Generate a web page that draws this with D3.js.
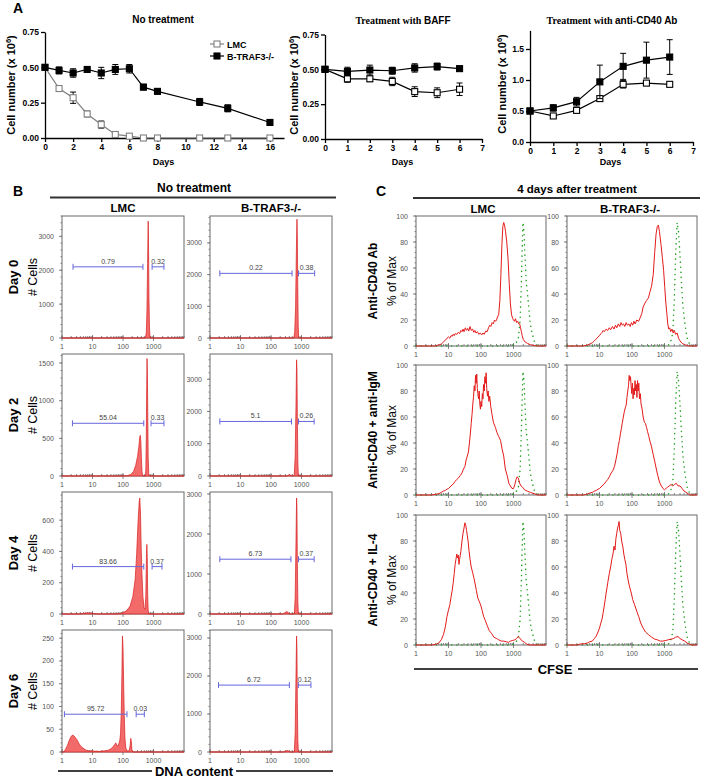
<!DOCTYPE html>
<html>
<head>
<meta charset="utf-8">
<script src="https://cdn.jsdelivr.net/npm/d3@7"></script>
<style>
body { margin: 0; background: #fff; }
svg text { font-family: Arial, "Liberation Sans", sans-serif; }
</style>
</head>
<body>
<div id="chart"></div>
<script>
// ---------- Panel A : cell numbers ----------
var noTxDays = [0, 1, 2, 3, 4, 5, 6, 7, 8, 11, 13, 16];
var noTxLmc = [0.50, 0.35, 0.285, 0.17, 0.095, 0.025, 0.013, 0, 0, 0, 0, 0];
var noTxLmcErr = [0.01, 0.02, 0.04, 0.02, 0.025, 0.01, 0.005, 0.003, 0.003, 0.003, 0.003, 0.003];
var noTxTraf = [0.50, 0.478, 0.46, 0.485, 0.46, 0.485, 0.49, 0.36, 0.33, 0.255, 0.21, 0.11];
var noTxTrafErr = [0.01, 0.025, 0.03, 0.01, 0.04, 0.035, 0.03, 0.02, 0.015, 0.025, 0.025, 0.01];

var baffDays = [0, 1, 2, 3, 4, 5, 6];
var baffLmc = [0.50, 0.432, 0.432, 0.413, 0.34, 0.332, 0.357];
var baffLmcErr = [0.01, 0.025, 0.02, 0.03, 0.035, 0.035, 0.045];
var baffTraf = [0.50, 0.485, 0.495, 0.49, 0.51, 0.52, 0.505];
var baffTrafErr = [0.01, 0.03, 0.035, 0.025, 0.03, 0.025, 0.015];

var cd40Days = [0, 1, 2, 3, 4, 5, 6];
var cd40Lmc = [0.50, 0.42, 0.51, 0.70, 0.93, 0.95, 0.93];
var cd40LmcErr = [0.02, 0.02, 0.02, 0.04, 0.06, 0.03, 0.02];
var cd40Traf = [0.50, 0.55, 0.65, 0.97, 1.22, 1.32, 1.37];
var cd40TrafErr = [0.01, 0.05, 0.07, 0.27, 0.21, 0.29, 0.28];

// ---------- Panel B : DNA content histograms [DNA, # cells] ----------
var bLmcD0 = [[1,0],[540,0],[580,150],[610,800],[640,2200],[670,3450],[690,2600],[710,1200],[740,300],[770,0],[10000,0]];
var bLmcD2 = [[1,0],[100,0],[140,5],[180,20],[220,60],[260,140],[300,260],[330,390],[355,520],[370,540],[385,460],[400,250],[420,60],[440,5],[470,0],[540,0],[560,80],[580,500],[600,1200],[615,1560],[630,1350],[650,800],[670,250],[700,30],[730,0],[10000,0]];
var bLmcD4 = [[1,0],[4,0],[5,4],[7,7],[9,5],[12,2],[16,0],[60,0],[90,5],[130,20],[170,50],[210,110],[250,220],[280,380],[310,580],[340,720],[355,742],[375,640],[395,420],[420,250],[450,110],[490,40],[530,30],[560,120],[585,360],[605,445],[625,360],[645,120],[670,20],[700,0],[10000,0]];
var bLmcD6 = [[1,0],[1.15,0],[1.3,6],[1.5,14],[1.7,24],[1.9,32],[2.1,36],[2.3,37],[2.5,35],[2.8,31],[3.1,27],[3.5,20],[4,14],[4.6,10],[5.3,7],[6.2,4],[7.2,3],[8.5,2],[10,2.5],[12,1.5],[14,2],[17,1],[20,2],[24,2.5],[28,3],[33,4],[38,6],[43,9],[48,12],[53,16],[58,20],[63,15],[68,13],[73,18],[78,24],[83,40],[88,90],[92,170],[96,255],[100,230],[105,150],[110,80],[116,30],[124,8],[140,2],[160,3],[172,15],[180,30],[188,22],[196,5],[210,0],[10000,0]];
var bTrafD0 = [[1,0],[560,0],[600,200],[640,1000],[680,2800],[710,3750],[730,3200],[755,1600],[780,400],[810,0],[10000,0]];
var bTrafD2 = [[1,0],[330,0],[380,30],[420,40],[460,10],[520,0],[580,50],[620,600],[660,2200],[690,3600],[710,3300],[730,1800],[760,400],[790,0],[10000,0]];
var bTrafD4 = [[1,0],[250,0],[290,40],[330,60],[370,30],[420,0],[580,0],[620,400],[660,1800],[690,2900],[710,2600],[730,1300],[760,300],[790,0],[10000,0]];
var bTrafD6 = [[1,0],[250,0],[300,20],[340,40],[380,25],[420,0],[580,0],[620,500],[660,2000],[690,3050],[710,2700],[730,1300],[760,300],[790,0],[10000,0]];

var bDays = ['Day 0', 'Day 2', 'Day 4', 'Day 6'];
var bYMaxLmc = [3600, 1620, 780, 268];
var bYMaxTraf = [3850, 3780, 3050, 3210];
var bYStepLmc = [1000, 500, 200, 50];
var bYStepTraf = [1000, 1000, 1000, 1000];
var bGateYLmc = [2100, 700, 303, 83];
var bGateYTraf = [2040, 1690, 1370, 1760];
var bGateLmc = [[[2.3,450],[900,2200]], [[2.2,480],[830,2200]], [[2.2,480],[900,1900]], [[1.2,135],[270,500]]];
var bGateTraf = [[[2.1,490],[800,2700]], [[2.1,470],[800,2600]], [[2.1,450],[800,2600]], [[1.9,400],[790,2040]]];
var bPctLmc = [['0.79','0.32'], ['55.04','0.33'], ['83.66','0.37'], ['95.72','0.03']];
var bPctTraf = [['0.22','0.38'], ['5.1','0.26'], ['6.73','0.37'], ['6.72','0.12']];

// ---------- Panel C : CFSE dilution [CFSE, % of max] ----------
var cLmcCd40 = [[1,0],[4,0],[5,0.8],[6,1.5],[7,3],[8,4.5],[9,6],[10,7],[11,6],[12,8],[13,7.5],[14,9],[15,8],[16,9.5],[18,9],[20,10.5],[22,9.5],[24,12],[26,11],[28,13],[30,11],[33,14],[36,12],[39,13.5],[42,11.5],[46,15],[50,12],[55,13],[60,10.5],[65,12],[70,10],[78,11],[86,9],[95,10],[105,8.5],[115,10],[125,9],[140,11.5],[155,11],[170,14],[185,16],[200,15],[220,18],[240,17],[260,20],[280,19],[300,20],[330,23],[350,24],[380,35],[410,55],[440,78],[470,92],[500,95],[530,93],[570,88],[620,80],[680,67],[740,48],[800,33],[870,24],[950,21],[1000,20],[1080,19],[1150,21],[1250,18],[1350,19],[1450,17],[1550,17],[1650,14],[1750,11],[1850,8],[2000,5],[2300,3],[2700,2],[3300,1],[4500,0.3],[5500,0],[10000,0]];
var cTrafCd40 = [[1,0],[3,0],[4,0.5],[5,1.5],[6,2.5],[7,4],[8,5.5],[9,7],[10,8],[11,9.5],[12,10.5],[13,12],[14,11],[16,13],[18,12],[20,14],[22,12.5],[25,15],[28,13],[31,16],[34,14],[38,17],[42,15],[46,18],[50,16],[55,17],[60,15],[66,18],[72,16],[80,17],[88,15],[96,18],[105,16],[115,19],[125,17],[140,20],[160,19],[180,22],[200,25],[220,30],[250,33],[280,35],[320,37],[360,42],[400,46],[450,55],[500,72],[550,86],[600,92],[650,93],[700,88],[780,78],[860,68],[940,58],[1020,45],[1100,33],[1180,25],[1260,17],[1350,13],[1450,14],[1550,11],[1700,13],[1850,10],[2000,12],[2200,9],[2450,10],[2700,6],[3000,4],[3500,2],[4200,1],[5000,0.3],[6000,0],[10000,0]];
var cLmcIgm = [[1,0],[3,0],[4,0.5],[5,1],[6,2],[7,3],[8,3.5],[9,4.5],[10,5],[12,7],[14,8.5],[16,10.5],[18,12],[20,13],[23,15],[26,17],[29,20],[32,22],[35,27],[38,30],[41,33],[44,40],[47,47],[50,55],[53,62],[56,70],[59,76],[62,84],[65,80],[68,92],[71,86],[74,93],[77,82],[80,78],[84,74],[88,80],[92,70],[96,66],[100,72],[105,68],[110,78],[115,74],[120,85],[126,80],[132,91],[138,86],[144,94],[150,82],[158,76],[166,80],[175,72],[185,76],[200,68],[218,62],[240,56],[277,52],[310,48],[350,45],[400,42],[440,36],[500,30],[560,20],[640,15],[720,9],[800,7],[900,5],[1000,5],[1100,8],[1200,12],[1300,14],[1400,13],[1550,9],[1700,7],[1900,6],[2200,4],[2650,3],[3300,2],[4300,1],[5500,0],[10000,0]];
var cTrafIgm = [[1,0],[3,0],[4,0.5],[5,1.5],[6,2],[7,3],[8,3.5],[9,4.5],[10,5],[12,7],[14,8.5],[16,10.5],[18,12],[20,14],[23,17],[26,19],[29,22],[32,27],[35,32],[38,38],[41,42],[44,47],[47,51],[50,55],[54,60],[58,64],[62,67],[66,69],[70,75],[74,80],[78,84],[82,92],[86,88],[90,91],[94,84],[98,78],[103,86],[108,74],[113,82],[118,77],[124,88],[130,80],[136,85],[142,75],[148,88],[155,80],[162,86],[170,74],[180,78],[190,70],[205,66],[220,60],[240,56],[260,55],[280,52],[300,49],[330,45],[360,41],[400,37],[450,31],[500,26],[560,20],[620,15],[700,10],[800,7],[900,5],[1000,4],[1100,5],[1250,6],[1400,7],[1600,8],[1800,7],[2000,8],[2300,9],[2600,7],[3000,7],[3500,5],[4000,3],[5000,1.5],[6000,0],[10000,0]];
var cLmcIl4 = [[1,0],[3,0],[4,0.5],[5,1.5],[6,4],[7,8],[8,14],[9,22],[10,27],[11,31],[12,37],[13,42],[14,48],[15,55],[16,62],[17,66],[18,70],[19,67],[20,69],[21,62],[22,66],[24,72],[26,80],[28,86],[30,90],[32,94],[34,92],[36,88],[38,84],[40,80],[43,72],[46,66],[50,60],[55,56],[60,52],[66,47],[72,42],[80,36],[90,33],[100,30],[110,26],[120,22],[135,19],[155,15],[180,11],[210,9],[250,6],[300,5],[350,4],[420,3],[500,3],[600,2.5],[700,2],[800,3],[950,3.5],[1100,4],[1250,5],[1400,6.5],[1550,5.5],[1700,4],[1900,3],[2200,2],[2600,0.5],[3200,0],[10000,0]];
var cTrafIl4 = [[1,0],[2,0],[2.6,0.8],[3.5,1],[4.2,1.5],[5,2.5],[6,3],[7,5],[8,7],[9,10],[10,13],[11,17],[12,20],[13,25],[14,30],[15,35],[16,40],[17,44],[18,48],[20,55],[22,60],[24,66],[26,70],[28,76],[30,73],[32,82],[34,86],[36,90],[38,92],[40,95],[42,88],[45,86],[48,80],[52,76],[56,70],[60,66],[65,62],[70,55],[76,50],[82,46],[88,43],[95,40],[105,35],[120,31],[140,26],[160,22],[185,17],[220,13],[260,10],[320,8],[400,6],[500,4.5],[600,4],[750,3],[900,3],[1100,3.5],[1300,4],[1600,4.5],[1900,5],[2200,6],[2600,6.5],[3000,5],[3500,4],[4200,3],[5000,1.5],[6000,0.5],[7000,0],[10000,0]];
var cGreenLmc = [[1,0],[800,0],[1100,1],[1400,5],[1600,20],[1750,50],[1850,75],[1950,95],[2100,88],[2250,70],[2450,50],[2700,40],[3000,28],[3250,18],[3600,12],[4300,4],[5000,1],[6000,0],[10000,0]];
var cGreenTraf = [[1,0],[1200,0],[1500,2],[1800,10],[2000,35],[2200,70],[2450,95],[2700,88],[3000,70],[3300,50],[3700,30],[4300,16],[5000,6],[6000,1],[7000,0],[10000,0]];
var cRows = ['Anti-CD40 Ab', 'Anti-CD40 + anti-IgM', 'Anti-CD40 + IL-4'];

// SVG Element
var svg = d3.select('#chart')
    .append('svg')
    .attr('width', 704)
    .attr('height', 778);

function boldText(x, y, txt, size, anchor) {
    return svg.append('text')
        .attr('x', x).attr('y', y)
        .attr('font-size', size)
        .attr('font-weight', 'bold')
        .attr('text-anchor', anchor || 'middle')
        .text(txt);
}

// ---------- Panel A ----------
function growthChart(o) {
    var x = d3.scaleLinear().domain([0, o.xMax]).range([o.left, o.right]);
    var y = d3.scaleLinear().domain([0, o.yMax]).range([o.bottom, o.top]);
    var g = svg.append('g');

    var xa = g.append('g')
        .attr('transform', 'translate(0,' + o.bottom + ')')
        .call(d3.axisBottom(x).tickValues(o.xTicks).tickSize(4).tickPadding(2).tickSizeOuter(0).tickFormat(d3.format('d')));
    var ya = g.append('g')
        .attr('transform', 'translate(' + o.left + ',0)')
        .call(d3.axisLeft(y).tickValues(o.yTicks).tickSize(4).tickPadding(2).tickSizeOuter(0).tickFormat(d3.format(o.yFmt)));
    [xa, ya].forEach(function (a) {
        a.selectAll('path, line').attr('stroke', '#000').attr('stroke-width', 1.3);
        a.selectAll('text').attr('font-size', 8.5).attr('font-weight', 'bold').attr('fill', '#000');
    });

    o.series.forEach(function (s) {
        var line = d3.line()
            .x(function (d, i) { return x(s.days[i]); })
            .y(function (d) { return y(d); });
        g.append('path').datum(s.vals)
            .attr('d', line)
            .attr('fill', 'none')
            .attr('stroke', s.color)
            .attr('stroke-width', 1.2);
        var eb = g.selectAll(null).data(s.vals).enter().append('g');
        eb.append('line')
            .attr('x1', function (d, i) { return x(s.days[i]); })
            .attr('x2', function (d, i) { return x(s.days[i]); })
            .attr('y1', function (d, i) { return y(d - s.errs[i]); })
            .attr('y2', function (d, i) { return y(d + s.errs[i]); })
            .attr('stroke', '#000').attr('stroke-width', 1);
        [-1, 1].forEach(function (sg) {
            eb.append('line')
                .attr('x1', function (d, i) { return x(s.days[i]) - 3; })
                .attr('x2', function (d, i) { return x(s.days[i]) + 3; })
                .attr('y1', function (d, i) { return y(d + sg * s.errs[i]); })
                .attr('y2', function (d, i) { return y(d + sg * s.errs[i]); })
                .attr('stroke', '#000').attr('stroke-width', 1);
        });
        g.selectAll(null).data(s.vals).enter().append('rect')
            .attr('x', function (d, i) { return x(s.days[i]) - 3; })
            .attr('y', function (d) { return y(d) - 3; })
            .attr('width', 6).attr('height', 6)
            .attr('fill', s.filled ? '#000' : '#fff')
            .attr('stroke', s.filled ? '#000' : s.color)
            .attr('stroke-width', 1.1);
    });

    boldText((o.left + o.right) / 2 - 1, 165, 'Days', 9);
    var t = svg.append('text')
        .attr('transform', 'translate(' + o.yLabelX + ',' + o.yLabelY + ') rotate(-90)')
        .attr('text-anchor', 'middle')
        .attr('font-size', 11).attr('font-weight', 'bold');
    t.append('tspan').text('Cell number (x 10');
    t.append('tspan').attr('dy', -4).attr('font-size', 7.5).text('6');
    t.append('tspan').attr('dy', 4).text(')');
    return { x: x, y: y };
}

growthChart({
    left: 45, right: 284, top: 32, bottom: 138, xMax: 17, yMax: 0.75,
    xTicks: d3.range(0, 17, 2), yTicks: [0, 0.25, 0.5, 0.75], yFmt: '.2f',
    yLabelX: 15, yLabelY: 85,
    series: [
        { days: noTxDays, vals: noTxLmc, errs: noTxLmcErr, filled: false, color: '#808080' },
        { days: noTxDays, vals: noTxTraf, errs: noTxTrafErr, filled: true, color: '#000' }
    ]
});
growthChart({
    left: 325, right: 482, top: 34.5, bottom: 139, xMax: 7, yMax: 0.75,
    xTicks: d3.range(0, 8), yTicks: [0, 0.25, 0.5, 0.75], yFmt: '.2f',
    yLabelX: 298, yLabelY: 85,
    series: [
        { days: baffDays, vals: baffLmc, errs: baffLmcErr, filled: false, color: '#000' },
        { days: baffDays, vals: baffTraf, errs: baffTrafErr, filled: true, color: '#000' }
    ]
});
growthChart({
    left: 530, right: 693, top: 30.4, bottom: 142, xMax: 7, yMax: 1.8,
    xTicks: d3.range(0, 8), yTicks: [0, 0.5, 1, 1.5], yFmt: '.1f',
    yLabelX: 506, yLabelY: 84,
    series: [
        { days: cd40Days, vals: cd40Lmc, errs: cd40LmcErr, filled: false, color: '#000' },
        { days: cd40Days, vals: cd40Traf, errs: cd40TrafErr, filled: true, color: '#000' }
    ]
});

boldText(18, 13, 'A', 14);
boldText(163, 23, 'No treatment', 10);
var t2 = boldText(403, 24, '', 10);
t2.append('tspan').attr('font-family', '"Liberation Serif", "Times New Roman", serif').text('Treatment with ');
t2.append('tspan').text('BAFF');
var t3 = boldText(612, 24, '', 10);
t3.append('tspan').attr('font-family', '"Liberation Serif", "Times New Roman", serif').text('Treatment with ');
t3.append('tspan').text('anti-CD40 Ab');

// legend
[{ label: 'LMC', filled: false, color: '#808080', y: 44 }, { label: 'B-TRAF3-/-', filled: true, color: '#000', y: 56 }]
    .forEach(function (l) {
        svg.append('line').attr('x1', 210).attr('x2', 224).attr('y1', l.y).attr('y2', l.y)
            .attr('stroke', l.color).attr('stroke-width', 1.2);
        svg.append('rect').attr('x', 214).attr('y', l.y - 3).attr('width', 6).attr('height', 6)
            .attr('fill', l.filled ? '#000' : '#fff').attr('stroke', l.color).attr('stroke-width', 1.1);
        boldText(227, l.y + 3.5, l.label, 9, 'start');
    });

// ---------- shared flow-cytometry box ----------
function flowBox(x0, y0, w, h, yMax, yStep) {
    var x = d3.scaleLog().domain([1, 10000]).range([x0, x0 + w]);
    var y = d3.scaleLinear().domain([0, yMax]).range([y0 + h, y0]);
    var g = svg.append('g');
    var grey = '#6a6a6a';
    g.append('rect').attr('x', x0).attr('y', y0).attr('width', w).attr('height', h)
        .attr('fill', 'none').attr('stroke', grey).attr('stroke-width', 1);
    // x minor + major ticks
    g.selectAll(null).data(x.ticks()).enter().append('line')
        .attr('x1', function (d) { return x(d); }).attr('x2', function (d) { return x(d); })
        .attr('y1', y0 + h - 2).attr('y2', y0 + h)
        .attr('stroke', grey).attr('stroke-width', 0.8);
    var majors = [1, 10, 100, 1000];
    g.selectAll(null).data(majors).enter().append('line')
        .attr('x1', function (d) { return x(d); }).attr('x2', function (d) { return x(d); })
        .attr('y1', y0 + h - 3).attr('y2', y0 + h + 3)
        .attr('stroke', grey).attr('stroke-width', 0.8);
    g.selectAll(null).data(majors).enter().append('text')
        .attr('x', function (d) { return x(d); }).attr('y', y0 + h + 11)
        .attr('text-anchor', 'middle').attr('font-size', 7).attr('fill', '#555')
        .text(function (d) { return d; });
    // y ticks
    var yMajor = d3.range(0, yMax + 0.001, yStep);
    var yMinor = d3.range(0, yMax + 0.001, yStep / 5);
    g.selectAll(null).data(yMinor).enter().append('line')
        .attr('x1', x0 - 1.5).attr('x2', x0)
        .attr('y1', function (d) { return y(d); }).attr('y2', function (d) { return y(d); })
        .attr('stroke', grey).attr('stroke-width', 0.8);
    g.selectAll(null).data(yMajor).enter().append('line')
        .attr('x1', x0 - 3).attr('x2', x0)
        .attr('y1', function (d) { return y(d); }).attr('y2', function (d) { return y(d); })
        .attr('stroke', grey).attr('stroke-width', 0.8);
    g.selectAll(null).data(yMajor).enter().append('text')
        .attr('x', x0 - 8).attr('y', function (d) { return y(d) + 2.5; })
        .attr('text-anchor', 'end').attr('font-size', 7).attr('fill', '#555')
        .text(function (d) { return d; });
    return { g: g, x: x, y: y };
}

// ---------- Panel B ----------
var bColX = [62, 210];
var bRowY = [216, 354, 492, 630];
var bSize = 122;

function histogram(col, row, pts, yMax, yStep, gateY, gates, pcts) {
    var b = flowBox(bColX[col], bRowY[row], bSize, bSize, yMax, yStep);
    var area = d3.area()
        .x(function (d) { return b.x(d[0]); })
        .y0(b.y(0))
        .y1(function (d) { return b.y(d[1]); });
    b.g.append('path').datum(pts)
        .attr('d', area)
        .attr('fill', '#f26a6a')
        .attr('stroke', '#d81e1e')
        .attr('stroke-width', 0.7);
    gates.forEach(function (gt, i) {
        var gy = b.y(gateY), xa = b.x(gt[0]), xb = b.x(gt[1]);
        b.g.append('line').attr('x1', xa).attr('x2', xb).attr('y1', gy).attr('y2', gy)
            .attr('stroke', '#6666dd').attr('stroke-width', 1);
        [xa, xb].forEach(function (xx) {
            b.g.append('line').attr('x1', xx).attr('x2', xx).attr('y1', gy - 3).attr('y2', gy + 3)
                .attr('stroke', '#6666dd').attr('stroke-width', 1);
        });
        b.g.append('text')
            .attr('x', b.x(Math.sqrt(gt[0] * gt[1]))).attr('y', gy - 3)
            .attr('text-anchor', 'middle').attr('font-size', 7).attr('fill', '#444')
            .text(pcts[i]);
    });
}

var bHistLmc = [bLmcD0, bLmcD2, bLmcD4, bLmcD6];
var bHistTraf = [bTrafD0, bTrafD2, bTrafD4, bTrafD6];
bDays.forEach(function (d, r) {
    histogram(0, r, bHistLmc[r], bYMaxLmc[r], bYStepLmc[r], bGateYLmc[r], bGateLmc[r], bPctLmc[r]);
    histogram(1, r, bHistTraf[r], bYMaxTraf[r], bYStepTraf[r], bGateYTraf[r], bGateTraf[r], bPctTraf[r]);
    var cy = bRowY[r] + bSize / 2;
    svg.append('text').attr('transform', 'translate(18,' + cy + ') rotate(-90)')
        .attr('text-anchor', 'middle').attr('font-size', 13).attr('font-weight', 'bold').text(d);
    svg.append('text').attr('transform', 'translate(37,' + cy + ') rotate(-90)')
        .attr('text-anchor', 'middle').attr('font-size', 12.5).text('# Cells');
});

boldText(18, 196, 'B', 14);
boldText(194, 192, 'No treatment', 12);
svg.append('line').attr('x1', 50).attr('x2', 336).attr('y1', 197.5).attr('y2', 197.5)
    .attr('stroke', '#333').attr('stroke-width', 1.8);
boldText(123, 212, 'LMC', 11.5);
boldText(271, 212, 'B-TRAF3-/-', 11.5);
boldText(194, 776, 'DNA content', 13);
svg.append('line').attr('x1', 58).attr('x2', 152).attr('y1', 771).attr('y2', 771).attr('stroke', '#000').attr('stroke-width', 1.5);
svg.append('line').attr('x1', 236).attr('x2', 333).attr('y1', 771).attr('y2', 771).attr('stroke', '#000').attr('stroke-width', 1.5);

// ---------- Panel C ----------
var cColX = [416, 567];
var cRowY = [216, 365, 515];
var cSize = 130;

function cfse(col, row, red, green) {
    var b = flowBox(cColX[col], cRowY[row], cSize, cSize, 100, 20);
    var line = d3.line()
        .x(function (d) { return b.x(d[0]); })
        .y(function (d) { return b.y(d[1]); });
    b.g.append('path').datum(green)
        .attr('d', line).attr('fill', 'none')
        .attr('stroke', '#22a022').attr('stroke-width', 1.5)
        .attr('stroke-linecap', 'round').attr('stroke-dasharray', '0.1,5');
    b.g.append('path').datum(red)
        .attr('d', line).attr('fill', 'none')
        .attr('stroke', '#e41a1a').attr('stroke-width', 1);
}

var cRedLmc = [cLmcCd40, cLmcIgm, cLmcIl4];
var cRedTraf = [cTrafCd40, cTrafIgm, cTrafIl4];
cRows.forEach(function (lbl, r) {
    cfse(0, r, cRedLmc[r], cGreenLmc);
    cfse(1, r, cRedTraf[r], cGreenTraf);
    var cy = cRowY[r] + cSize / 2;
    svg.append('text').attr('transform', 'translate(377,' + cy + ') rotate(-90)')
        .attr('text-anchor', 'middle').attr('font-size', 12).attr('font-weight', 'bold').text(lbl);
    svg.append('text').attr('transform', 'translate(396,' + cy + ') rotate(-90)')
        .attr('text-anchor', 'middle').attr('font-size', 12).text('% of Max');
});

boldText(381, 196, 'C', 14);
boldText(577, 193, '4 days after treatment', 11.5);
svg.append('line').attr('x1', 413).attr('x2', 700).attr('y1', 198).attr('y2', 198)
    .attr('stroke', '#333').attr('stroke-width', 1.8);
boldText(483, 213, 'LMC', 11.5);
boldText(630, 213, 'B-TRAF3-/-', 11.5);
boldText(555, 674, 'CFSE', 13);
svg.append('line').attr('x1', 414).attr('x2', 532).attr('y1', 669).attr('y2', 669).attr('stroke', '#000').attr('stroke-width', 1.5);
svg.append('line').attr('x1', 578).attr('x2', 698).attr('y1', 669).attr('y2', 669).attr('stroke', '#000').attr('stroke-width', 1.5);
</script>
</body>
</html>
